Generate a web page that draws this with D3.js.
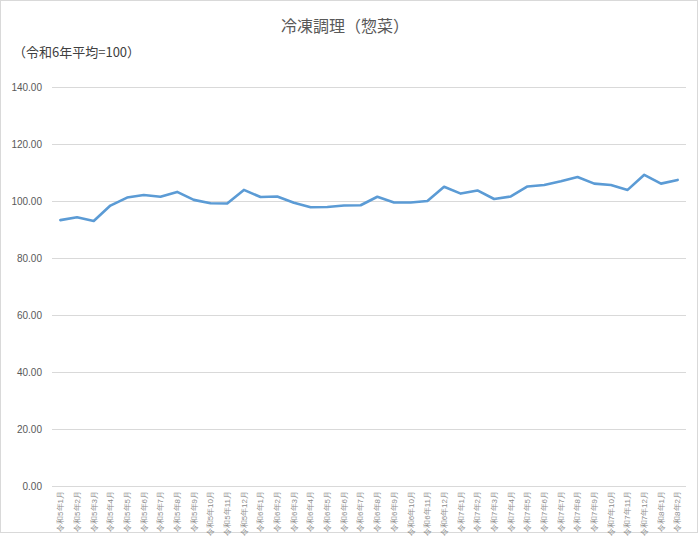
<!DOCTYPE html>
<html>
<head>
<meta charset="utf-8">
<script src="https://cdn.jsdelivr.net/npm/d3@7"></script>
<style>
  body { margin: 0; background: #fff; }
  svg { display: block; font-family: "Noto Sans CJK JP", "Noto Sans", sans-serif; }
</style>
</head>
<body>
<svg id="chart" width="700" height="536"></svg>
<script>
// months: 令和5年1月 .. 令和8年2月
const months = [
  "令和5年1月","令和5年2月","令和5年3月","令和5年4月","令和5年5月","令和5年6月",
  "令和5年7月","令和5年8月","令和5年9月","令和5年10月","令和5年11月","令和5年12月",
  "令和6年1月","令和6年2月","令和6年3月","令和6年4月","令和6年5月","令和6年6月",
  "令和6年7月","令和6年8月","令和6年9月","令和6年10月","令和6年11月","令和6年12月",
  "令和7年1月","令和7年2月","令和7年3月","令和7年4月","令和7年5月","令和7年6月",
  "令和7年7月","令和7年8月","令和7年9月","令和7年10月","令和7年11月","令和7年12月",
  "令和8年1月","令和8年2月"
];

// index values (令和6年平均=100)
const values = [
  93.3, 94.3, 93.0, 98.4, 101.2, 102.1, 101.5, 103.2, 100.4, 99.2, 99.1, 103.9,
  101.4, 101.6, 99.4, 97.8, 97.9, 98.4, 98.5, 101.5, 99.5, 99.5, 100.0, 105.0,
  102.6, 103.7, 100.7, 101.6, 105.1, 105.6, 106.9, 108.4, 106.1, 105.6, 103.9, 109.2,
  106.1, 107.4
];

const yTicks = [0, 20, 40, 60, 80, 100, 120, 140];

const svg = d3.select("#chart");
const W = 700, H = 536;

// outer frame
svg.append("rect")
  .attr("x", 0.5).attr("y", 0.5)
  .attr("width", W - 3).attr("height", H - 4)
  .attr("fill", "#fff")
  .attr("stroke", "#d9d9d9");

const x = d3.scaleBand().domain(months).range([52, 686]);
const y = d3.scaleLinear().domain([0, 140]).range([486, 87]);

// gridlines
svg.append("g")
  .selectAll("line")
  .data(yTicks)
  .join("line")
  .attr("x1", 52).attr("x2", 686)
  .attr("y1", d => Math.round(y(d)) + 0.5)
  .attr("y2", d => Math.round(y(d)) + 0.5)
  .attr("stroke", "#d9d9d9")
  .attr("stroke-width", 1);

// y axis labels
const yAxis = svg.append("g")
  .attr("transform", "translate(52,0)")
  .call(d3.axisLeft(y).tickValues(yTicks).tickFormat(d3.format(".2f")).tickSize(0).tickPadding(10));
yAxis.select(".domain").remove();
yAxis.selectAll("text")
  .attr("fill", "#595959")
  .style("font-size", "10px")
  .style("font-family", "'Liberation Sans', sans-serif");

// x axis labels
const xAxis = svg.append("g")
  .attr("transform", "translate(0,486)")
  .call(d3.axisBottom(x).tickSize(0).tickPadding(0));
xAxis.select(".domain").remove();
xAxis.selectAll("text")
  .attr("fill", "#8c8c8c")
  .style("font-size", "8px")
  .attr("text-anchor", "end")
  .attr("dy", "0.35em")
  .attr("transform", "translate(0,5) rotate(-90)")
  .attr("x", 0).attr("y", 0);

// line
const line = d3.line()
  .x((d, i) => x(months[i]) + x.bandwidth() / 2)
  .y(d => y(d));

svg.append("path")
  .datum(values)
  .attr("d", line)
  .attr("fill", "none")
  .attr("stroke", "#5b9bd5")
  .attr("stroke-width", 2.6)
  .attr("stroke-linejoin", "round")
  .attr("stroke-linecap", "round");

// title
svg.append("text")
  .attr("x", 345).attr("y", 32)
  .attr("text-anchor", "middle")
  .attr("fill", "#595959")
  .style("font-size", "16px")
  .text("冷凍調理（惣菜）");

svg.append("text")
  .attr("x", 13).attr("y", 57)
  .attr("fill", "#404040")
  .style("font-size", "13px")
  .text("（令和6年平均=100）");
</script>
</body>
</html>
